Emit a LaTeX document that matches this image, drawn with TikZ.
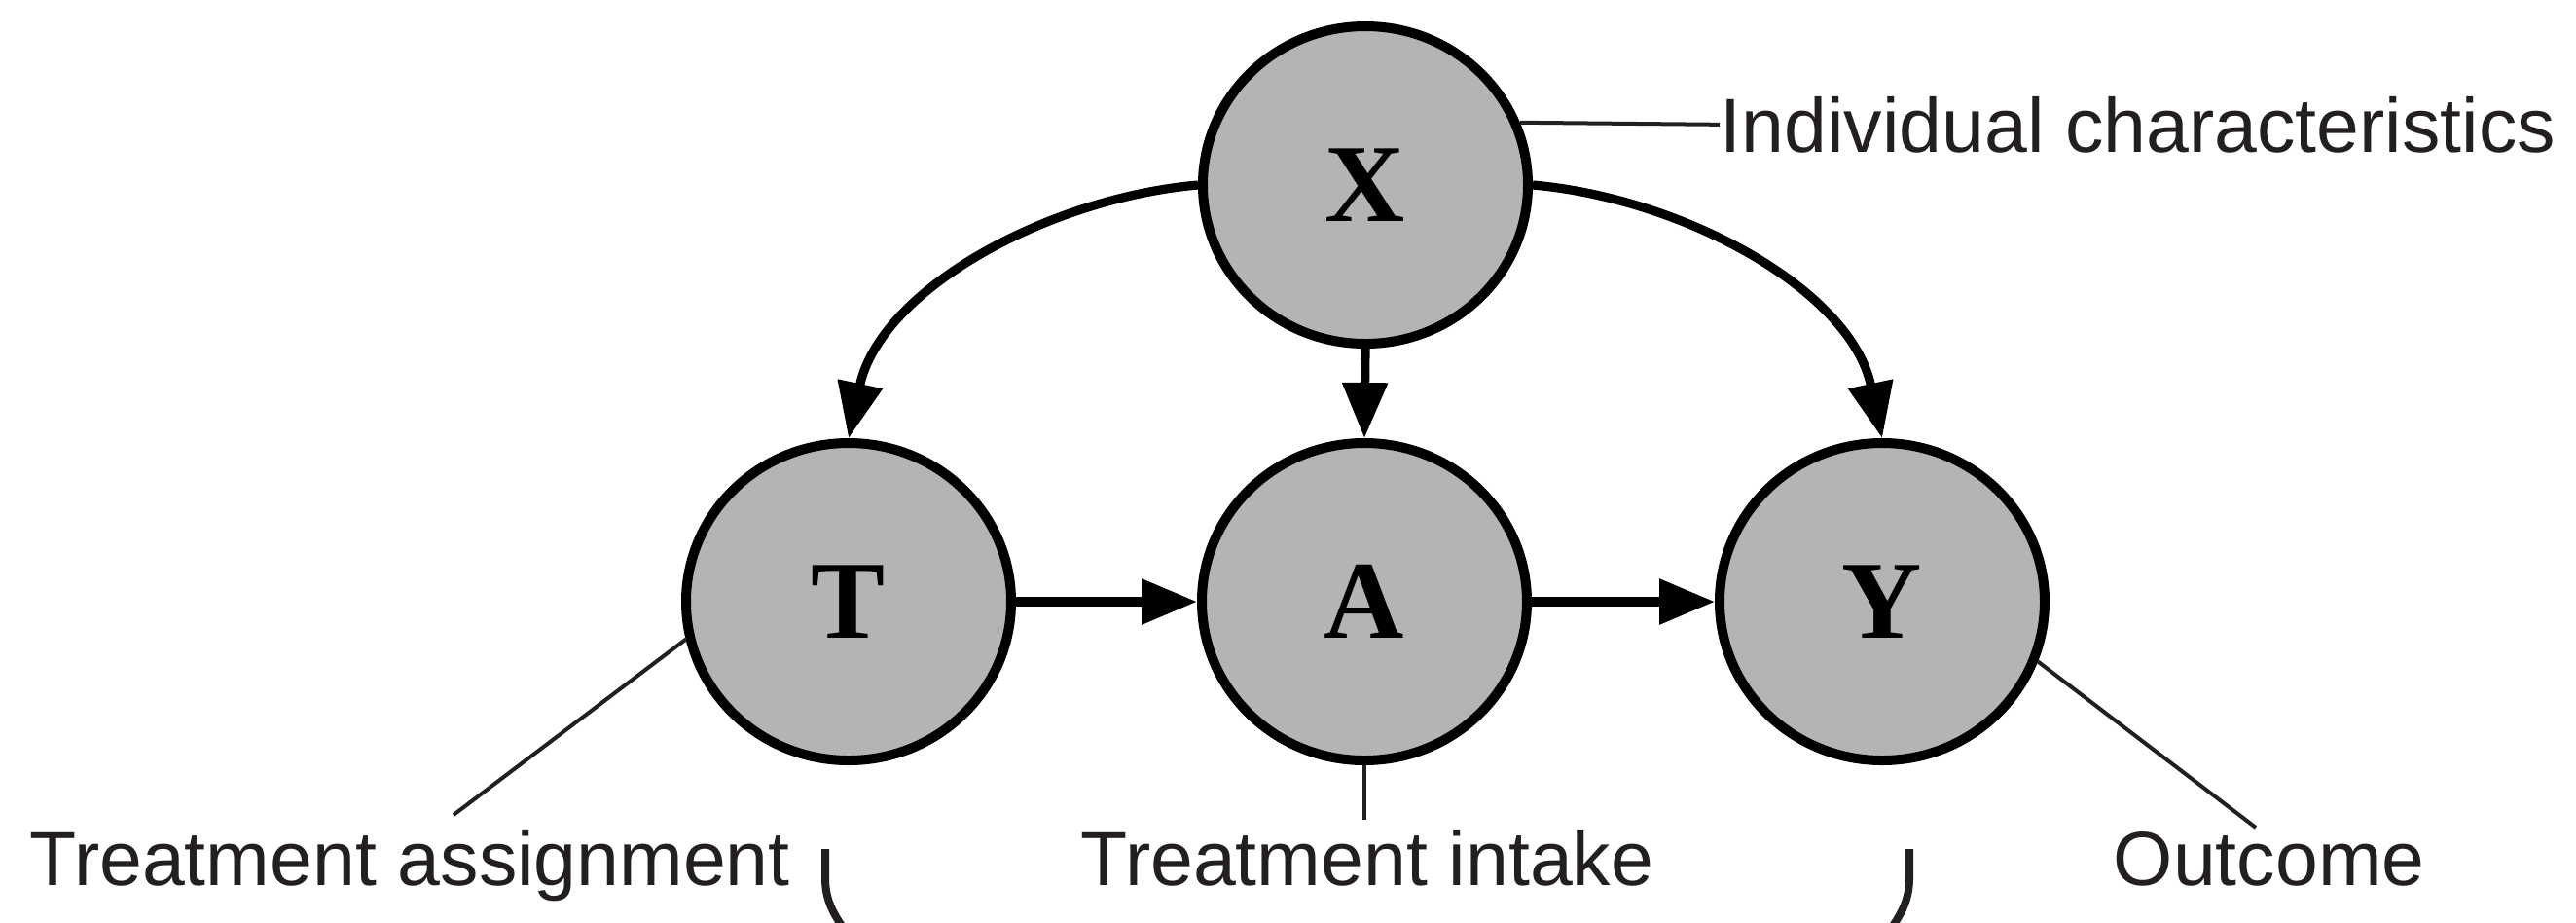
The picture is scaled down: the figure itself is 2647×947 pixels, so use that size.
\documentclass[tikz,border=0pt]{standalone}
\usepackage{fontspec}
\setmainfont{Liberation Serif}
\newfontfamily\lblfont{Liberation Sans}
\usetikzlibrary{shapes.geometric,arrows.meta}
\definecolor{nodegray}{RGB}{180,180,180}
\definecolor{ink}{RGB}{35,31,32}
\begin{document}
\begin{tikzpicture}[x=0.25pt,y=-0.25pt,
  var/.style={ellipse,draw=black,fill=nodegray,line width=2.5pt,minimum width=83.5pt,minimum height=81.5pt,inner sep=0pt,font=\fontsize{28.5}{30}\selectfont\bfseries},
  arr/.style={line width=2.3pt,-{Triangle[length=14.25pt,width=11.25pt]}},
  lbl/.style={inner sep=0pt,text=ink,font=\lblfont\fontsize{19.7}{22}\selectfont},
  lblline/.style={draw=ink,line width=1pt},
  bracket/.style={draw=ink,line width=2pt}]
\useasboundingbox (0,0) rectangle (2647,947);
% variables
\node[var] (X) at (1403,190) {X};
\node[var] (T) at (872,618) {T};
\node[var] (A) at (1402,618) {A};
\node[var] (Y) at (1934,618) {Y};
% causal arrows
\draw[arr] (X.west) to[out=185,in=78,looseness=0.9] (T.north);
\draw[arr] (X.east) to[out=-5,in=102,looseness=0.9] (Y.north);
\draw[arr] (X.south) -- (A.north);
\draw[arr] (T.east) -- (A.west);
\draw[arr] (A.east) -- (Y.west);
% labels
\node[lbl,anchor=base west] (ic) at (1767,156) {Individual characteristics};
\node[lbl,anchor=base west] (ta) at (30,909) {Treatment assignment};
\node[lbl,anchor=base west] (ti) at (1110,909) {Treatment intake};
\node[lbl,anchor=base west] (oc) at (2171,909) {Outcome};
\coordinate (taend) at (466,837);
\coordinate (tiend) at (1402,842);
\coordinate (ocend) at (2318,850);
\draw[lblline] (X.22) -- (ic.west);
\draw[lblline] (T.193) -- (taend);
\draw[lblline] (A.south) -- (tiend);
\draw[lblline] (Y.-21) -- (ocend);
% brackets (cut by the lower edge)
\begin{scope}
\clip (0,0) rectangle (2647,947);
\draw[bracket] (848,872) -- (848,902) .. controls (848,925) and (857,940) .. (870,958);
\draw[bracket] (1962,872) -- (1962,902) .. controls (1962,925) and (1953,940) .. (1940,958);
\end{scope}
\end{tikzpicture}
\end{document}
